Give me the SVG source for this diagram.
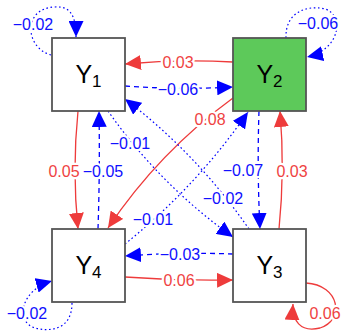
<svg xmlns="http://www.w3.org/2000/svg" width="342" height="332" viewBox="0 0 342 332">
<style>
.e{fill:none;stroke-width:1.3}
.r{stroke:#ee3b3b}
.b{stroke:#0000ff}
.dash{stroke-dasharray:5 4}
.dot{stroke-dasharray:1.6 2.6;stroke-width:1.2}
.lab{font-family:"Liberation Sans",Arial,sans-serif;font-size:16px;text-anchor:middle;stroke:#fff;stroke-width:4.5;stroke-linejoin:round;paint-order:stroke}
.lr{fill:#ef4242}
.lb{fill:#1010ff}
.box{stroke:#555;stroke-width:1.8}
.nl{font-family:"Liberation Sans",Arial,sans-serif;font-size:25px;text-anchor:middle;fill:#000}
.sub{font-size:17px}
</style>
<defs>
<marker id="ar" viewBox="0 0 16 15" refX="16" refY="7.5" markerWidth="16" markerHeight="15" markerUnits="userSpaceOnUse" orient="auto"><path d="M0,0 L16,7.5 L0,15 z" fill="#ee3b3b"/></marker>
<marker id="ab" viewBox="0 0 16 15" refX="16" refY="7.5" markerWidth="16" markerHeight="15" markerUnits="userSpaceOnUse" orient="auto"><path d="M0,0 L16,7.5 L0,15 z" fill="#0000ff"/></marker>
</defs>
<rect width="342" height="332" fill="#fff"/>
<g id="connectors">
<path class="e r" d="M233,62 Q179,59 125,64" marker-end="url(#ar)"/>
<path class="e b dash" d="M125,86 Q179,90 233,87" marker-end="url(#ab)"/>
<path class="e r" d="M233,98 Q159,152 108,228" marker-end="url(#ar)"/>
<path class="e r" d="M78,111 Q72,170 78,229" marker-end="url(#ar)"/>
<path class="e b dash" d="M98,229 Q100,170 99,111" marker-end="url(#ab)"/>
<path class="e r" d="M279,229 Q285,170 280,111" marker-end="url(#ar)"/>
<path class="e b dash" d="M259,111 Q257,170 260,229" marker-end="url(#ab)"/>
<path class="e b dash" d="M233,254 Q179,252 125,256" marker-end="url(#ab)"/>
<path class="e r" d="M125,277 Q179,281 233,280" marker-end="url(#ar)"/>
<path class="e b dot" d="M108,111 Q160,185 233,237" marker-end="url(#ab)"/>
<path class="e b dot" d="M249,229 Q197,154 125,99" marker-end="url(#ab)"/>
<path class="e b dot" d="M125,244 Q196,187 248,112" marker-end="url(#ab)"/>
<path class="e b dot" d="M51,55 C25,48 22,8 55,7 C70,6 76,15 76,37" marker-end="url(#ab)"/>
<path class="e b dot" d="M286,38 C285,10 310,5 325,9 C345,15 340,50 307,57" marker-end="url(#ab)"/>
<path class="e r" d="M306,283 C340,285 345,320 320,328 C300,333 292,320 293,304" marker-end="url(#ar)"/>
<path class="e b dot" d="M72,303 C72,330 50,332 35,328 C15,322 20,290 52,281" marker-end="url(#ab)"/>
</g>
<g id="edge-labels">
<text class="lab lr" x="178" y="67.7">0.03</text>
<text class="lab lb" x="178" y="94.7">−0.06</text>
<text class="lab lr" x="210" y="124.7">0.08</text>
<text class="lab lr" x="64" y="176.7">0.05</text>
<text class="lab lb" x="103" y="176.7">−0.05</text>
<text class="lab lb" x="243" y="175.7">−0.07</text>
<text class="lab lr" x="292" y="176.7">0.03</text>
<text class="lab lb" x="130" y="148.7">−0.01</text>
<text class="lab lb" x="223" y="203.7">−0.02</text>
<text class="lab lb" x="153" y="224.7">−0.01</text>
<text class="lab lb" x="180" y="259.7">−0.03</text>
<text class="lab lr" x="179" y="285.7">0.06</text>
<text class="lab lb" x="33" y="29.7">−0.02</text>
<text class="lab lb" x="318" y="28.7">−0.06</text>
<text class="lab lb" x="27" y="318.7">−0.02</text>
<text class="lab lr" x="325" y="318.7">0.06</text>
</g>
<g id="Y1"><rect class="box" x="52" y="38" width="73" height="73" fill="#fff"/><text class="nl" x="88.5" y="83">Y<tspan class="sub" dy="4">1</tspan></text></g>
<g id="Y2"><rect class="box" x="233" y="38" width="73" height="73" fill="#5dc95a"/><text class="nl" x="269.5" y="83">Y<tspan class="sub" dy="4">2</tspan></text></g>
<g id="Y3"><rect class="box" x="233" y="229" width="73" height="73" fill="#fff"/><text class="nl" x="269.5" y="274">Y<tspan class="sub" dy="4">3</tspan></text></g>
<g id="Y4"><rect class="box" x="52" y="229" width="73" height="73" fill="#fff"/><text class="nl" x="88.5" y="274">Y<tspan class="sub" dy="4">4</tspan></text></g>
</svg>
